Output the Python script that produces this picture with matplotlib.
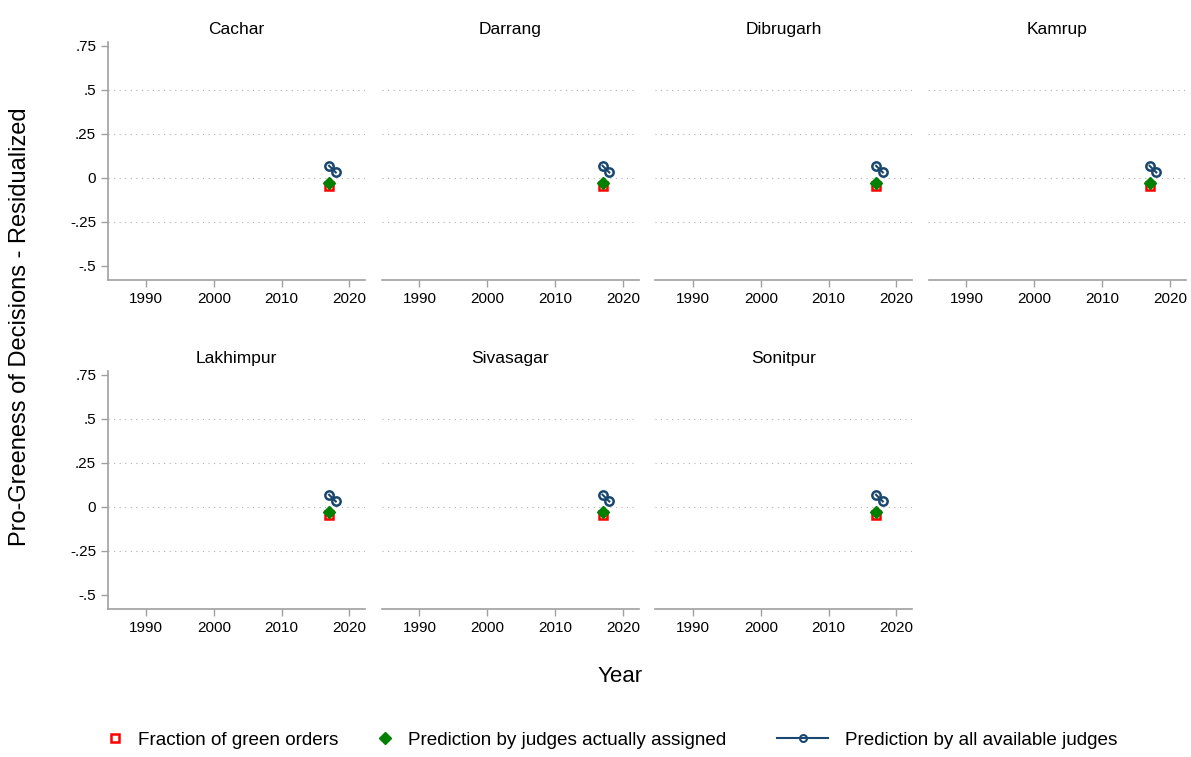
import matplotlib
matplotlib.use("Agg")
from matplotlib import pyplot as plt
from matplotlib.lines import Line2D

plt.rcParams["font.family"] = ["Liberation Sans", "DejaVu Sans"]

# district panels
districts = ["Cachar", "Darrang", "Dibrugarh", "Kamrup", "Lakhimpur", "Sivasagar", "Sonitpur"]

# same values in every panel
frac_years = [2017]
frac_green = [-0.048]
assigned_years = [2017]
assigned_pred = [-0.028]
all_years = [2017, 2018]
all_pred = [0.068, 0.030]

yticks = [0.75, 0.5, 0.25, 0, -0.25, -0.5]
ytick_labels = [".75", ".5", ".25", "0", "-.25", "-.5"]
grid_vals = [0.5, 0.25, 0, -0.25]
xticks = [1990, 2000, 2010, 2020]

navy = "#1a476f"
red = "#ff0000"
green = "#008000"
axis_gray = "#a0a0a0"

fig = plt.figure(figsize=(11.91, 7.57), dpi=100)

left0 = 108 / 1191
col_step = 273.5 / 1191
width = 257 / 1191
row_tops = [42, 371]
height = 238 / 757

for i, name in enumerate(districts):
    r, c = divmod(i, 4)
    bottom = 1 - (row_tops[r] + 238) / 757
    ax = fig.add_axes([left0 + c * col_step, bottom, width, height])
    for g in grid_vals:
        ax.axhline(g, color="#b0b0b0", lw=0.8, ls=(0, (1, 4)), zorder=0)
    ax.plot(all_years, all_pred, color=navy, lw=1.5, marker="o", ms=6,
            mfc="none", mec=navy, mew=1.8, zorder=3)
    ax.plot(frac_years, frac_green, ls="none", marker="s", ms=6,
            mfc="none", mec=red, mew=1.8, zorder=2)
    ax.plot(assigned_years, assigned_pred, ls="none", marker="D", ms=6,
            color=green, zorder=2)
    ax.set_xlim(1984.4, 2022.3)
    ax.set_ylim(-0.58, 0.77)
    ax.set_xticks(xticks)
    ax.set_yticks(yticks)
    ax.spines["top"].set_visible(False)
    ax.spines["right"].set_visible(False)
    for s in ["left", "bottom"]:
        ax.spines[s].set_color(axis_gray)
        ax.spines[s].set_linewidth(1.2)
    ax.tick_params(axis="both", colors=axis_gray, labelcolor="black",
                   labelsize=11, length=5, width=1)
    if c == 0:
        ax.set_yticklabels(ytick_labels)
    else:
        ax.set_yticklabels([])
        ax.tick_params(axis="y", length=0)
        ax.spines["left"].set_visible(False)
    ax.set_title(name, fontsize=12.5, pad=6)

fig.text(20 / 1191, 1 - 327 / 757, "Pro-Greeness of Decisions - Residualized",
         rotation=90, ha="center", va="center", fontsize=17)
fig.text(620 / 1191, 1 - 677 / 757, "Year", ha="center", va="center", fontsize=16)

# legend: three separate entries so each can sit where the reference has it
entries = [
    (Line2D([], [], ls="none", marker="s", ms=6, mfc="none", mec=red, mew=1.8),
     "Fraction of green orders", 106, 1.0, 0.7),
    (Line2D([], [], ls="none", marker="D", ms=6, color=green),
     "Prediction by judges actually assigned", 376, 1.0, 0.7),
    (Line2D([], [], color=navy, lw=1.5, marker="o", ms=5, mfc="none", mec=navy, mew=1.5),
     "Prediction by all available judges", 777, 2.7, 0.9),
]
for h, lab, x0, hl, pad in entries:
    fig.legend([h], [lab], loc="center left", bbox_to_anchor=(x0 / 1191, 1 - 740 / 757),
               frameon=False, fontsize=13.6, handlelength=hl, handletextpad=pad,
               borderpad=0, borderaxespad=0)

fig.savefig("out.png", dpi=100)
